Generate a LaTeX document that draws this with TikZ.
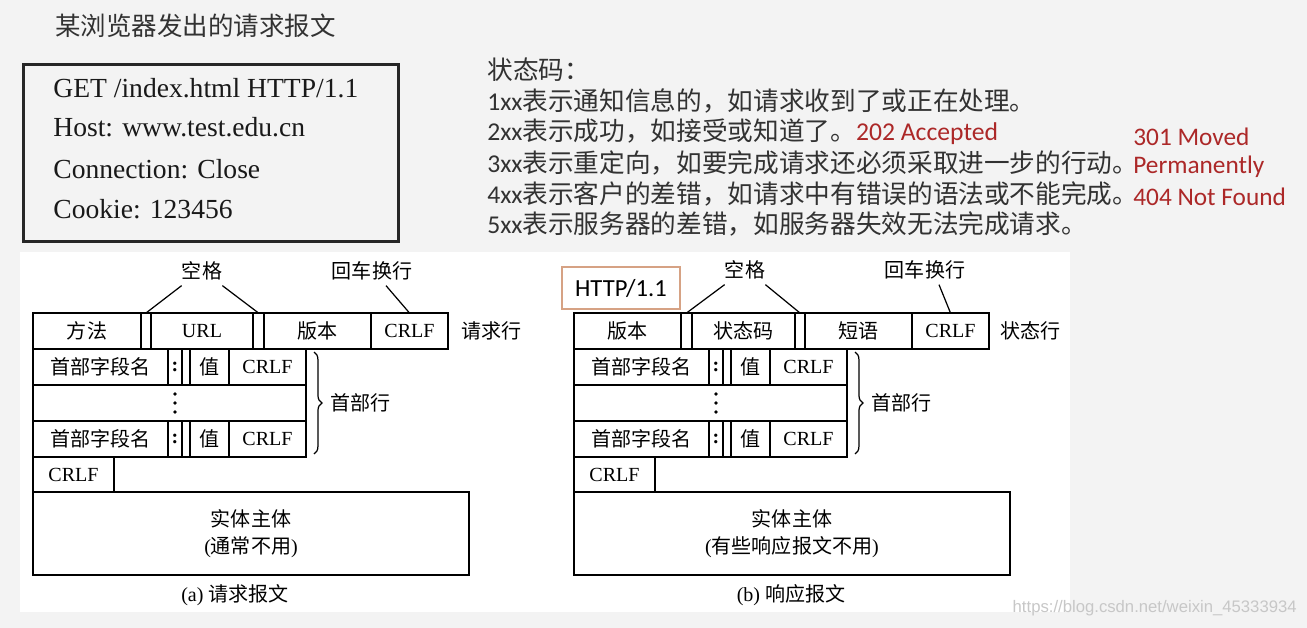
\documentclass[tikz,border=0pt]{standalone}
\usepackage{fontspec}
\setmainfont{Liberation Serif}
\newfontfamily\zhfont{Noto Sans CJK SC}
\newfontfamily\calfont{Carlito}
\newfontfamily\wmfont{Liberation Sans}
\usepackage{xcolor}
\usetikzlibrary{positioning, calc, decorations.pathreplacing}

\definecolor{slidebg}{RGB}{243,243,243}
\definecolor{inktext}{RGB}{50,50,50}
\definecolor{codered}{RGB}{172,40,40}
\definecolor{veredge}{RGB}{214,162,132}

\begin{document}
\begin{tikzpicture}[
      x=0.02cm, y=-0.02cm,
      cell/.style={draw, line width=0.8pt, inner sep=0pt, outer sep=0pt,
        minimum height=36*0.02cm, font=\fontsize{11.4}{15.3}\selectfont},
      cw/.style={minimum width=#1*0.02cm},
      tag/.style={inner sep=0pt, font=\fontsize{11.4}{13}\selectfont\zhfont},
      reqtxt/.style={anchor=base west, inner sep=0pt, font=\fontsize{15.7}{18}\selectfont, text=black!90},
      codetxt/.style={anchor=west, inner sep=0pt, font=\fontsize{14.6}{17}\selectfont, text=inktext},
      redtxt/.style={anchor=west, inner sep=0pt, font=\fontsize{14.4}{17}\selectfont\calfont, text=codered},
      pointer/.style={line width=0.7pt}
    ]
      \fill[slidebg] (0,0) rectangle (1307,628);
      \fill[white] (20,252) rectangle (1070,612);
      \useasboundingbox (0,0) rectangle (1307,628);

      % browser request
      \node[anchor=west, inner sep=0pt, font=\fontsize{14.5}{17}\selectfont\zhfont, text=inktext] (title) at (55,26) {某浏览器发出的请求报文};
      \node[draw, line width=1.6pt, draw=black!85, minimum width=375*0.02cm, minimum height=177*0.02cm, anchor=north west] (reqbox) at (22,63) {};
      \node[reqtxt] (rl1) at (53,98) {GET /index.html HTTP/1.1};
      \node[reqtxt] (rl2) at (53,137) {Host: www.test.edu.cn};
      \node[reqtxt] (rl3) at (53,178) {Connection: Close};
      \node[reqtxt] (rl4) at (53,218) {Cookie: 123456};

      % status codes
      \node[codetxt] (st0) at (487,70) {\zhfont 状态码：};
      \node[codetxt] (st1) at (487,101) {{\calfont 1xx}{\zhfont 表示通知信息的，如请求收到了或正在处理。}};
      \node[codetxt] (st2) at (487,132) {{\calfont 2xx}{\zhfont 表示成功，如接受或知道了。}{\calfont\color{codered}202 Accepted}};
      \node[codetxt] (st3) at (487,163) {{\calfont 3xx}{\zhfont 表示重定向，如要完成请求还必须采取进一步的行动。}};
      \node[codetxt] (st4) at (487,194) {{\calfont 4xx}{\zhfont 表示客户的差错，如请求中有错误的语法或不能完成。}};
      \node[codetxt] (st5) at (487,224) {{\calfont 5xx}{\zhfont 表示服务器的差错，如服务器失效无法完成请求。}};
      \node[redtxt] (c301) at (1133,137) {301 Moved};
      \node[redtxt] (cperm) at (1133,167) {Permanently};
      \node[redtxt] (c404) at (1133,197) {404 Not Found};

      % (a) request message
      \node[cell, cw=108, anchor=north west] (q1) at (33,313) {\zhfont 方法};
      \node[cell, cw=10, right=0pt of q1] (q2) {};
      \node[cell, cw=102, right=0pt of q2] (q3) {URL};
      \node[cell, cw=11, right=0pt of q3] (q4) {};
      \node[cell, cw=107, right=0pt of q4] (q5) {\zhfont 版本};
      \node[cell, cw=77, right=0pt of q5] (q6) {CRLF};
      \node[tag, right=0.26cm of q6] (qline) {请求行};
      \node[tag] (qsp) at (202,271) {空格};
      \node[tag] (qcrl) at (372,271) {回车换行};
      \draw[pointer] (q2.north) -- ($(qsp.south west)+(0,5)$);
      \draw[pointer] (q4.north) -- ($(qsp.south east)+(0,5)$);
      \draw[pointer] (q6.north) -- ($(qcrl.south)+(14,5)$);

      \node[cell, cw=135, anchor=north west] (qh1) at (q1.south west) {\zhfont 首部字段名};
      \node[cell, cw=14, right=0pt of qh1] (qh2) {\textbf{:}};
      \node[cell, cw=8, right=0pt of qh2] (qh3) {};
      \node[cell, cw=39, right=0pt of qh3] (qh4) {\zhfont 值};
      \node[cell, cw=77, right=0pt of qh4] (qh5) {CRLF};
      \node[cell, cw=273, anchor=north west] (qd) at (qh1.south west) {};
      \coordinate (qdots) at (qh2 |- qd);
      \foreach \dy in {-9,0,9}
        \fill ($(qdots)+(0,\dy)$) circle (1.1pt);
      \node[cell, cw=135, anchor=north west] (qf1) at (qd.south west) {\zhfont 首部字段名};
      \node[cell, cw=14, right=0pt of qf1] (qf2) {\textbf{:}};
      \node[cell, cw=8, right=0pt of qf2] (qf3) {};
      \node[cell, cw=39, right=0pt of qf3] (qf4) {\zhfont 值};
      \node[cell, cw=77, right=0pt of qf4] (qf5) {CRLF};
      \draw[pointer, decorate, decoration={brace, amplitude=4.5pt}]
        ($(qh5.north east)+(8,3)$) -- ($(qf5.south east)+(8,-3)$);
      \node[tag, anchor=west] (qhdr) at ($(qh5.north east)!0.5!(qf5.south east)+(24,0)$) {首部行};

      \node[cell, cw=81, minimum height=35*0.02cm, anchor=north west] (qcr) at (qf1.south west) {CRLF};
      \node[cell, cw=436, minimum height=83*0.02cm, anchor=north west, align=center] (qbody) at (qcr.south west)
        {{\zhfont 实体主体}\\({\zhfont 通常不用})};
      \node[tag, font=\fontsize{11.4}{13}\selectfont] (qcap) at (235,595) {(a) {\zhfont 请求报文}};

      % (b) response message
      \node[draw=veredge, line width=0.6pt, minimum width=118*0.02cm, minimum height=42*0.02cm,
        font=\fontsize{14}{16}\selectfont\calfont] (pver) at (621,288) {HTTP/1.1};
      \node[cell, cw=107, anchor=north west] (p1) at (574,313) {\zhfont 版本};
      \node[cell, cw=11, right=0pt of p1] (p2) {};
      \node[cell, cw=103, right=0pt of p2] (p3) {\zhfont 状态码};
      \node[cell, cw=10, right=0pt of p3] (p4) {};
      \node[cell, cw=107, right=0pt of p4] (p5) {\zhfont 短语};
      \node[cell, cw=77, right=0pt of p5] (p6) {CRLF};
      \node[tag, right=0.22cm of p6] (pline) {状态行};
      \node[tag] (psp) at (745,270) {空格};
      \node[tag] (pcrl) at (925,270) {回车换行};
      \draw[pointer] (p2.north) -- ($(psp.south west)+(0,5)$);
      \draw[pointer] (p4.north) -- ($(psp.south east)+(0,5)$);
      \draw[pointer] (p6.north) -- ($(pcrl.south)+(14,5)$);

      \node[cell, cw=135, anchor=north west] (ph1) at (p1.south west) {\zhfont 首部字段名};
      \node[cell, cw=14, right=0pt of ph1] (ph2) {\textbf{:}};
      \node[cell, cw=8, right=0pt of ph2] (ph3) {};
      \node[cell, cw=39, right=0pt of ph3] (ph4) {\zhfont 值};
      \node[cell, cw=77, right=0pt of ph4] (ph5) {CRLF};
      \node[cell, cw=273, anchor=north west] (pd) at (ph1.south west) {};
      \coordinate (pdots) at (ph2 |- pd);
      \foreach \dy in {-9,0,9}
        \fill ($(pdots)+(0,\dy)$) circle (1.1pt);
      \node[cell, cw=135, anchor=north west] (pf1) at (pd.south west) {\zhfont 首部字段名};
      \node[cell, cw=14, right=0pt of pf1] (pf2) {\textbf{:}};
      \node[cell, cw=8, right=0pt of pf2] (pf3) {};
      \node[cell, cw=39, right=0pt of pf3] (pf4) {\zhfont 值};
      \node[cell, cw=77, right=0pt of pf4] (pf5) {CRLF};
      \draw[pointer, decorate, decoration={brace, amplitude=4.5pt}]
        ($(ph5.north east)+(8,3)$) -- ($(pf5.south east)+(8,-3)$);
      \node[tag, anchor=west] (phdr) at ($(ph5.north east)!0.5!(pf5.south east)+(24,0)$) {首部行};

      \node[cell, cw=81, minimum height=35*0.02cm, anchor=north west] (pcr) at (pf1.south west) {CRLF};
      \node[cell, cw=436, minimum height=83*0.02cm, anchor=north west, align=center] (pbody) at (pcr.south west)
        {{\zhfont 实体主体}\\({\zhfont 有些响应报文不用})};
      \node[tag, font=\fontsize{11.4}{13}\selectfont] (pcap) at (791,595) {(b) {\zhfont 响应报文}};

      % watermark
      \node[anchor=east, inner sep=0pt, font=\fontsize{9.5}{11}\selectfont\wmfont, text=black!22] (wm) at (1297,608)
        {https://blog.csdn.net/weixin\_45333934};
    \end{tikzpicture}
\end{document}
